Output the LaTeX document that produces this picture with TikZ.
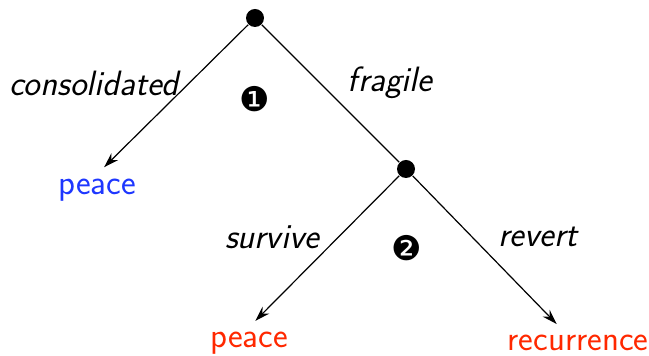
\documentclass[tikz,border=0pt]{standalone}
\usepackage{fontspec}
\usepackage{xcolor}
\usepackage{tikz}
\usetikzlibrary{arrows.meta,positioning}
\newfontfamily\dingfont{DejaVu Sans}
\definecolor{peaceblue}{RGB}{30,55,255}
\definecolor{warred}{RGB}{255,40,0}

\begin{document}
\begin{tikzpicture}[x=0.5pt,y=-0.5pt,>={Stealth[length=7.5pt,width=4.8pt]},
    font=\sffamily\fontsize{17.5}{21}\selectfont,
    dot/.style={circle,fill=black,inner sep=0pt,minimum size=9pt},
    leaf/.style={inner sep=2pt},
    branch/.style={font=\sffamily\itshape\fontsize{17.6}{21}\selectfont},
    stage/.style={font=\dingfont\fontsize{17}{19}\selectfont,inner sep=0pt},
    every path/.style={line width=0.6pt}]
  \useasboundingbox (0,0) rectangle (649,356);

  \node[dot] (root) at (255,18) {};
  \node[dot] (dtwo) at (406,169) {};

  \node[leaf,text=peaceblue] (peaceA) at (97,190) {peace};
  \node[leaf,text=warred] (peaceB) at (249,343) {peace};
  \node[leaf,text=warred] (recur) at (578,343) {recurrence};

  \draw[->,shorten >=5pt] (root) -- (peaceA.north);
  \draw (root) -- (dtwo);
  \draw[->,shorten >=4.5pt] (dtwo) -- (peaceB.north);
  \draw[->,shorten >=4.5pt] (dtwo) -- ([xshift=-7.5pt]recur.north);

  \node[branch] (lconsol) at (94,83) {consolidated};
  \node[branch] (lfrag) at (390,83) {fragile};
  \node[branch] (lsurv) at (272,237) {survive};
  \node[branch] (lrev) at (538,237) {revert};

  \node[stage] (sone) at (255,99) {❶};
  \node[stage] (stwo) at (407,248) {❷};
\end{tikzpicture}
\end{document}
